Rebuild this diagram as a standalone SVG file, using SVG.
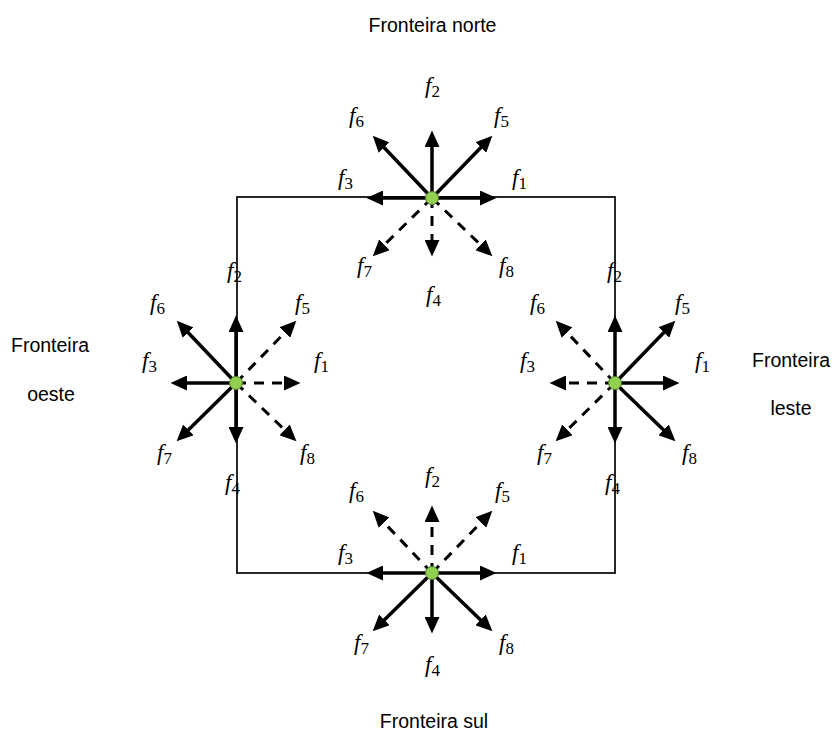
<svg xmlns="http://www.w3.org/2000/svg" width="835" height="733" viewBox="0 0 835 733">
  <style>
    .frame { fill: none; stroke: #111; stroke-width: 1.8; }
    .solid { stroke: #000; stroke-width: 3.5; fill: none; marker-end: url(#head); }
    .dash { stroke: #000; stroke-width: 3; fill: none; stroke-dasharray: 10 8; marker-end: url(#head); }
    .dot { fill: #92d050; stroke: #4f7a22; stroke-width: 1; }
    .lbl { font-family: "Liberation Serif", "Times New Roman", serif; font-size: 23px; fill: #000; }
    .lbl .v { font-style: italic; }
    .lbl .s { font-size: 17px; }
    .title { font-family: "Liberation Sans", Arial, sans-serif; font-size: 19.5px; fill: #000; text-anchor: middle; }
  </style>
  <defs>
    <marker id="head" markerUnits="userSpaceOnUse" markerWidth="17" markerHeight="15" refX="8" refY="7.5" orient="auto">
      <path d="M0,0 L16.5,7.5 L0,15 z" fill="#000"/>
    </marker>
  </defs>

  <!-- domain boundary -->
  <g id="connectors">
    <rect class="frame" x="237" y="197" width="378" height="376"/>
  </g>

  <!-- boundary titles -->
  <g id="titles">
    <text class="title" x="432.5" y="32">Fronteira norte</text>
    <text class="title" x="434" y="728">Fronteira sul</text>
    <text class="title" x="50" y="352">Fronteira</text>
    <text class="title" x="51" y="401">oeste</text>
    <text class="title" x="791" y="367">Fronteira</text>
    <text class="title" x="791" y="415">leste</text>
  </g>

  <!-- north boundary node -->
  <g id="node-north">
    <g transform="translate(432,198)">
      <line class="solid" x1="0" y1="0" x2="56" y2="0"/>
      <line class="solid" x1="0" y1="0" x2="-57" y2="0"/>
      <line class="solid" x1="0" y1="0" x2="0" y2="-59"/>
      <line class="dash" x1="0" y1="0" x2="0" y2="50"/>
      <line class="solid" x1="0" y1="0" x2="54.4" y2="-56.2"/>
      <line class="solid" x1="0" y1="0" x2="-53.4" y2="-56.2"/>
      <line class="dash" x1="0" y1="0" x2="-53.3" y2="52.4"/>
      <line class="dash" x1="0" y1="0" x2="54.3" y2="52.4"/>
      <circle class="dot" cx="0" cy="0" r="6.5"/>
    </g>
    <text class="lbl" x="425" y="93"><tspan class="v">f</tspan><tspan class="s" dy="4">2</tspan></text>
    <text class="lbl" x="349" y="123"><tspan class="v">f</tspan><tspan class="s" dy="4">6</tspan></text>
    <text class="lbl" x="494" y="123"><tspan class="v">f</tspan><tspan class="s" dy="4">5</tspan></text>
    <text class="lbl" x="338" y="185"><tspan class="v">f</tspan><tspan class="s" dy="4">3</tspan></text>
    <text class="lbl" x="512" y="185"><tspan class="v">f</tspan><tspan class="s" dy="4">1</tspan></text>
    <text class="lbl" x="357" y="273"><tspan class="v">f</tspan><tspan class="s" dy="4">7</tspan></text>
    <text class="lbl" x="499" y="273"><tspan class="v">f</tspan><tspan class="s" dy="4">8</tspan></text>
    <text class="lbl" x="426" y="302"><tspan class="v">f</tspan><tspan class="s" dy="4">4</tspan></text>
  </g>

  <!-- west boundary node -->
  <g id="node-west">
    <g transform="translate(236,383)">
      <line class="dash" x1="0" y1="0" x2="56" y2="0"/>
      <line class="solid" x1="0" y1="0" x2="-57" y2="0"/>
      <line class="solid" x1="0" y1="0" x2="0" y2="-59"/>
      <line class="solid" x1="0" y1="0" x2="0" y2="52"/>
      <line class="dash" x1="0" y1="0" x2="54.4" y2="-56.2"/>
      <line class="solid" x1="0" y1="0" x2="-53.4" y2="-56.2"/>
      <line class="solid" x1="0" y1="0" x2="-53.3" y2="52.4"/>
      <line class="dash" x1="0" y1="0" x2="54.3" y2="52.4"/>
      <circle class="dot" cx="0" cy="0" r="6.5"/>
    </g>
    <text class="lbl" x="227" y="278"><tspan class="v">f</tspan><tspan class="s" dy="4">2</tspan></text>
    <text class="lbl" x="150" y="310"><tspan class="v">f</tspan><tspan class="s" dy="4">6</tspan></text>
    <text class="lbl" x="295" y="310"><tspan class="v">f</tspan><tspan class="s" dy="4">5</tspan></text>
    <text class="lbl" x="142" y="368"><tspan class="v">f</tspan><tspan class="s" dy="4">3</tspan></text>
    <text class="lbl" x="314" y="368"><tspan class="v">f</tspan><tspan class="s" dy="4">1</tspan></text>
    <text class="lbl" x="157" y="460"><tspan class="v">f</tspan><tspan class="s" dy="4">7</tspan></text>
    <text class="lbl" x="300" y="460"><tspan class="v">f</tspan><tspan class="s" dy="4">8</tspan></text>
    <text class="lbl" x="225" y="490"><tspan class="v">f</tspan><tspan class="s" dy="4">4</tspan></text>
  </g>

  <!-- east boundary node -->
  <g id="node-east">
    <g transform="translate(615,383)">
      <line class="solid" x1="0" y1="0" x2="56" y2="0"/>
      <line class="dash" x1="0" y1="0" x2="-57" y2="0"/>
      <line class="solid" x1="0" y1="0" x2="0" y2="-59"/>
      <line class="solid" x1="0" y1="0" x2="0" y2="52"/>
      <line class="solid" x1="0" y1="0" x2="54.4" y2="-56.2"/>
      <line class="dash" x1="0" y1="0" x2="-53.4" y2="-56.2"/>
      <line class="dash" x1="0" y1="0" x2="-53.3" y2="52.4"/>
      <line class="solid" x1="0" y1="0" x2="54.3" y2="52.4"/>
      <circle class="dot" cx="0" cy="0" r="6.5"/>
    </g>
    <text class="lbl" x="607" y="278"><tspan class="v">f</tspan><tspan class="s" dy="4">2</tspan></text>
    <text class="lbl" x="530" y="310"><tspan class="v">f</tspan><tspan class="s" dy="4">6</tspan></text>
    <text class="lbl" x="675" y="310"><tspan class="v">f</tspan><tspan class="s" dy="4">5</tspan></text>
    <text class="lbl" x="520" y="368"><tspan class="v">f</tspan><tspan class="s" dy="4">3</tspan></text>
    <text class="lbl" x="695" y="368"><tspan class="v">f</tspan><tspan class="s" dy="4">1</tspan></text>
    <text class="lbl" x="537" y="460"><tspan class="v">f</tspan><tspan class="s" dy="4">7</tspan></text>
    <text class="lbl" x="682" y="460"><tspan class="v">f</tspan><tspan class="s" dy="4">8</tspan></text>
    <text class="lbl" x="605" y="490"><tspan class="v">f</tspan><tspan class="s" dy="4">4</tspan></text>
  </g>

  <!-- south boundary node -->
  <g id="node-south">
    <g transform="translate(432,573)">
      <line class="solid" x1="0" y1="0" x2="56" y2="0"/>
      <line class="solid" x1="0" y1="0" x2="-57" y2="0"/>
      <line class="dash" x1="0" y1="0" x2="0" y2="-59"/>
      <line class="solid" x1="0" y1="0" x2="0" y2="52"/>
      <line class="dash" x1="0" y1="0" x2="54.4" y2="-56.2"/>
      <line class="dash" x1="0" y1="0" x2="-53.4" y2="-56.2"/>
      <line class="solid" x1="0" y1="0" x2="-53.3" y2="52.4"/>
      <line class="solid" x1="0" y1="0" x2="54.3" y2="52.4"/>
      <circle class="dot" cx="0" cy="0" r="6.5"/>
    </g>
    <text class="lbl" x="425" y="483"><tspan class="v">f</tspan><tspan class="s" dy="4">2</tspan></text>
    <text class="lbl" x="349" y="498"><tspan class="v">f</tspan><tspan class="s" dy="4">6</tspan></text>
    <text class="lbl" x="495" y="498"><tspan class="v">f</tspan><tspan class="s" dy="4">5</tspan></text>
    <text class="lbl" x="338" y="560"><tspan class="v">f</tspan><tspan class="s" dy="4">3</tspan></text>
    <text class="lbl" x="512" y="560"><tspan class="v">f</tspan><tspan class="s" dy="4">1</tspan></text>
    <text class="lbl" x="354" y="650"><tspan class="v">f</tspan><tspan class="s" dy="4">7</tspan></text>
    <text class="lbl" x="499" y="650"><tspan class="v">f</tspan><tspan class="s" dy="4">8</tspan></text>
    <text class="lbl" x="425" y="672"><tspan class="v">f</tspan><tspan class="s" dy="4">4</tspan></text>
  </g>
</svg>
